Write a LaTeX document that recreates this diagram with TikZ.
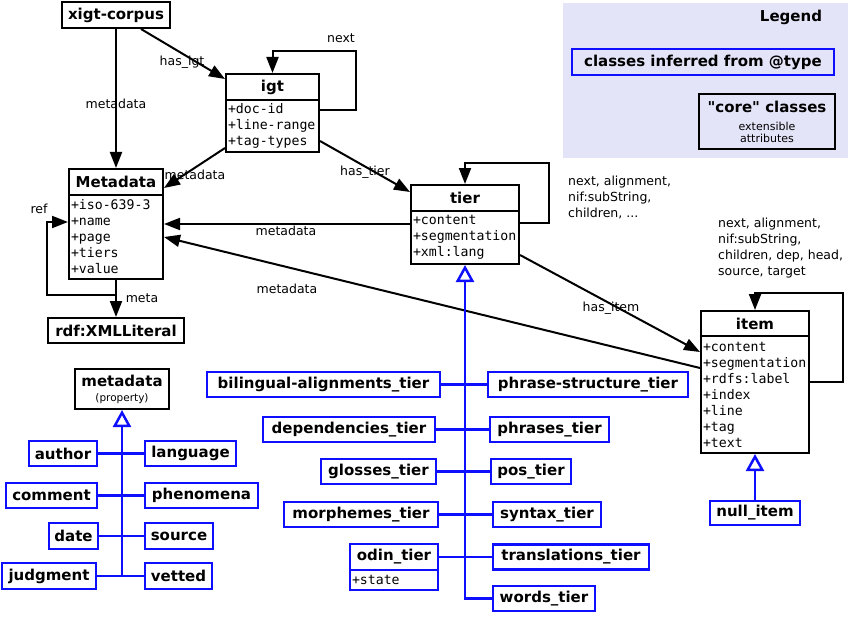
\documentclass[tikz,border=0pt]{standalone}
\usepackage{fontspec}
\setmainfont{DejaVu Sans}
\newfontfamily\qfont{DejaVu Sans}
\newfontfamily\monof{DejaVu Sans Mono}
\usetikzlibrary{arrows.meta}
\definecolor{blueC}{RGB}{15,15,255}
\definecolor{legfill}{RGB}{228,228,248}
\newcommand\hfont{\bfseries\fontsize{15}{18}\selectfont}
\newcommand\afont{\monof\fontsize{13.2}{16}\selectfont}
\newcommand\lfont{\fontsize{12.5}{16}\selectfont}
\newcommand\sfnt{\normalfont\fontsize{11}{12}\selectfont}
\tikzset{
 box/.style={draw=black, line width=2pt, inner sep=0pt, font=\hfont},
 bbox/.style={box, draw=blueC, line width=2.4pt},
 attr/.style={draw=black, line width=2pt, anchor=north, inner xsep=2pt, inner ysep=0pt, align=left, font=\afont},
 arr/.style={line width=2pt, -{Triangle[length=16pt,width=12pt]}},
 inh/.style={draw=blueC, line width=2.5pt, -{Triangle[open,length=17pt,width=18pt,fill=white]}},
 bl/.style={draw=blueC, line width=2.4pt},
 lbl/.style={font=\lfont, inner sep=0pt},
}
\begin{document}
\begin{tikzpicture}[x=1pt,y=-1pt]
\useasboundingbox (0,0) rectangle (850,631);
% legend
\node[fill=legfill, minimum width=285, minimum height=155, anchor=north west, inner sep=0pt] (legend) at (563,3) {};
\node[font=\hfont, inner sep=0pt] (legT) at (791,17) {Legend};
\node[bbox, minimum width=262, minimum height=26] (legB) at (703,62) {classes inferred from @type};
\node[box, minimum width=136, minimum height=55, align=center] (legC) at (767,121.5) {{\qfont\bfseries "core" classes}\\[0pt]{\sfnt extensible}\\[-6pt]{\sfnt attributes}};
% core classes
\node[box, minimum width=108, minimum height=26] (xigt) at (116,15) {xigt-corpus};
\node[box, minimum width=93, minimum height=26] (igtH) at (272.5,87) {igt};
\node[attr, text width=89, minimum height=52] (igtA) at ([yshift=2pt]igtH.south) {+doc-id\\+line-range\\+tag-types};
\node[box, minimum width=94, minimum height=26] (metaH) at (116,182) {Metadata};
\node[attr, text width=90, minimum height=84] (metaA) at ([yshift=2pt]metaH.south) {+iso-639-3\\+name\\+page\\+tiers\\+value};
\node[box, minimum width=136, minimum height=25] (rdf) at (116,330.5) {rdf:XMLLiteral};
\node[box, minimum width=108, minimum height=26] (tierH) at (465,198) {tier};
\node[attr, text width=104, minimum height=53] (tierA) at ([yshift=2pt]tierH.south) {+content\\+segmentation\\+xml:lang};
\node[box, minimum width=108, minimum height=25] (itemH) at (755,323.5) {item};
\node[attr, text width=104, minimum height=117] (itemA) at ([yshift=2pt]itemH.south) {+content\\+segmentation\\+rdfs:label\\+index\\+line\\+tag\\+text};
\node[bbox, minimum width=90, minimum height=24] (null) at (755,513) {null\_item};
% metadata property
\node[box, minimum width=94, minimum height=40, align=center] (mprop) at (122,389) {metadata\\[-3pt]{\normalfont\fontsize{10.5}{12}\selectfont (property)}};
\node[bbox, minimum width=68, minimum height=25] (author) at (63,453.5) {author};
\node[bbox, minimum width=91, minimum height=25] (language) at (190.5,453.5) {language};
\node[bbox, minimum width=91, minimum height=25] (comment) at (51.5,495.5) {comment};
\node[bbox, minimum width=113, minimum height=25] (phenomena) at (201.5,495.5) {phenomena};
\node[bbox, minimum width=49, minimum height=26] (date) at (73.5,536) {date};
\node[bbox, minimum width=68, minimum height=26] (source) at (179,536) {source};
\node[bbox, minimum width=94, minimum height=26] (judgment) at (49,576) {judgment};
\node[bbox, minimum width=67, minimum height=26] (vetted) at (178.5,576) {vetted};
% tier subclasses
\node[bbox, minimum width=233, minimum height=25] (bil) at (323.5,384.5) {bilingual-alignments\_tier};
\node[bbox, minimum width=200, minimum height=25] (phs) at (588,384.5) {phrase-structure\_tier};
\node[bbox, minimum width=172, minimum height=25] (dep) at (349,429.5) {dependencies\_tier};
\node[bbox, minimum width=119, minimum height=25] (phr) at (549.5,429.5) {phrases\_tier};
\node[bbox, minimum width=115, minimum height=25] (glo) at (378.5,471.5) {glosses\_tier};
\node[bbox, minimum width=80, minimum height=25] (pos) at (531,471.5) {pos\_tier};
\node[bbox, minimum width=154, minimum height=25] (mor) at (361,514.5) {morphemes\_tier};
\node[bbox, minimum width=108, minimum height=25] (syn) at (547,514.5) {syntax\_tier};
\node[bbox, minimum width=88, minimum height=26] (odinH) at (394,557) {odin\_tier};
\node[attr, draw=blueC, line width=2.4pt, text width=84, minimum height=20] (odinA) at ([yshift=2.4pt]odinH.south) {+state};
\node[bbox, minimum width=156, minimum height=25] (tra) at (571,557) {translations\_tier};
\node[bbox, minimum width=102, minimum height=25] (wor) at (544,598.5) {words\_tier};
% connectors
\draw[arr] ([xshift=25pt]xigt.south) -- ([yshift=-6pt]igtH.north west);
\draw[arr] (xigt.south) -- (metaH.north);
\draw[arr] ([yshift=5pt]igtA.south west) -- ([yshift=-6pt]metaH.east);
\coordinate (refc) at (47,295);
\draw[arr] (metaA.south) |- (refc) |- ([yshift=15pt]metaA.west);
\draw[arr] (metaA.south) -- (rdf.north);
\draw[arr] ([yshift=-15pt]igtA.east) -- ([yshift=6pt]tierH.west);
\coordinate (igtc) at (356,51);
\draw[arr] ([yshift=16pt]igtA.east) -| (igtc) -| (igtH.north);
\coordinate (tierc) at (549,163);
\draw[arr] ([yshift=14.5pt]tierA.east) -| (tierc) -| (tierH.north);
\draw[arr] ([yshift=13.5pt]tierA.west) -- ([yshift=13.5pt]tierA.west -| metaA.east);
\draw[arr] ([yshift=26.5pt]itemA.west) -- (metaA.east);
\draw[arr] ([yshift=-17.5pt]tierA.east) -- ([yshift=42.5pt]itemA.west);
\coordinate (itemc) at (843,293);
\draw[arr] ([yshift=12.5pt]itemA.east) -| (itemc) -| (itemH.north);
\draw[inh] (null.north) -- (itemA.south);
% tier hierarchy
\draw[bl] (bil.east) -- (phs.west);
\draw[bl] (dep.east) -- (phr.west);
\draw[bl] (glo.east) -- (pos.west);
\draw[bl] (mor.east) -- (syn.west);
\draw[bl] (odinH.east) -- (tra.west);
\draw[inh] (wor.west) -| (tierA.south);
% metadata hierarchy
\draw[bl] (author.east) -- (language.west);
\draw[bl] (comment.east) -- (phenomena.west);
\draw[bl] (date.east) -- (source.west);
\draw[bl] (judgment.east) -- (vetted.west);
\draw[inh] (vetted.west) -| (mprop.south);
% labels
\node[lbl] (l1) at (116,104) {metadata};
\node[lbl] (l2) at (182,62) {has\_igt};
\node[lbl] (l3) at (195,175) {metadata};
\node[lbl] (l4) at (39,209) {ref};
\node[lbl] (l5) at (142,298) {meta};
\node[lbl] (l6) at (341,38) {next};
\node[lbl] (l7) at (365,172) {has\_tier};
\node[lbl] (l8) at (286,231) {metadata};
\node[lbl] (l9) at (287,289) {metadata};
\node[lbl] (l10) at (611,308) {has\_item};
\node[lbl, anchor=north west, align=left] (l11) at (568,176) {next, alignment,\\nif:subString,\\children, ...};
\node[lbl, anchor=north west, align=left] (l12) at (718,218) {next, alignment,\\nif:subString,\\children, dep, head,\\source, target};
\end{tikzpicture}
\end{document}
